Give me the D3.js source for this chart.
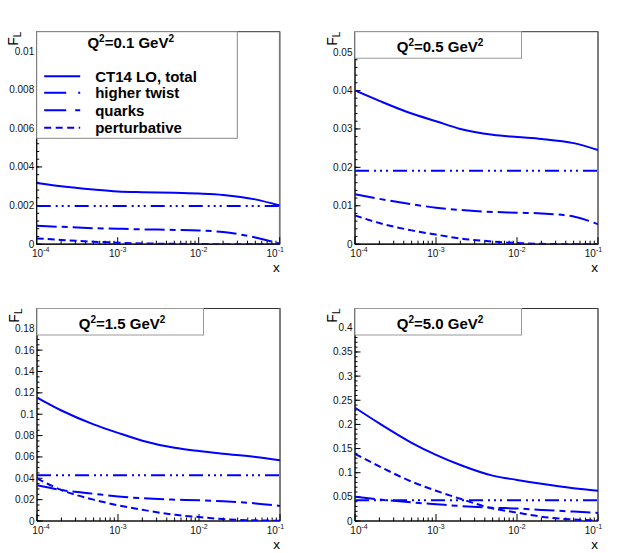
<!DOCTYPE html>
<html>
<head>
<meta charset="utf-8">
<script src="https://cdn.jsdelivr.net/npm/d3@7"></script>
<style>
  body { margin: 0; background: #fff; }
  text { font-family: "Liberation Sans", Arial, Helvetica, sans-serif; }
</style>
</head>
<body>
<svg id="chart" width="634" height="553"></svg>
<script>
// x grid shared by all curves
const xGrid = [1e-4, 2e-4, 5e-4, 1e-3, 2e-3, 5e-3, 1e-2, 2e-2, 5e-2, 1e-1];
const xTicks = [1e-4, 1e-3, 1e-2, 1e-1];
const q2Labels = ["0.1", "0.5", "1.5", "5.0"];
const seriesNames = ["CT14 LO, total", "higher twist", "quarks", "perturbative"];

// Q2 = 0.1 GeV2
const total01  = [0.00317, 0.00300, 0.00283, 0.00273, 0.00269, 0.00266, 0.00262, 0.00255, 0.00232, 0.00200];
const twist01  = [0.00198, 0.00198, 0.00198, 0.00198, 0.00198, 0.00198, 0.00198, 0.00198, 0.00198, 0.00198];
const quarks01 = [0.00095, 0.00090, 0.00083, 0.00080, 0.00077, 0.00074, 0.00071, 0.00063, 0.00035, 0.00003];
const pert01   = [0.00030, 0.00022, 0.00013, 0.00008, 0.00004, 0.00002, 0.00001, 0.00000, 0.00000, 0.00000];

// Q2 = 0.5 GeV2
const total05  = [0.0400, 0.0373, 0.0340, 0.0320, 0.0300, 0.0285, 0.0279, 0.0274, 0.0263, 0.0245];
const twist05  = [0.0191, 0.0191, 0.0191, 0.0191, 0.0191, 0.0191, 0.0191, 0.0191, 0.0191, 0.0191];
const quarks05 = [0.0130, 0.0118, 0.0104, 0.0095, 0.0089, 0.0084, 0.0082, 0.0080, 0.0072, 0.0052];
const pert05   = [0.0075, 0.0055, 0.0036, 0.0025, 0.0015, 0.0007, 0.0003, 0.0001, 0.0000, 0.0000];

// Q2 = 1.5 GeV2
const total15  = [0.1156, 0.1035, 0.0905, 0.0825, 0.0752, 0.0685, 0.0655, 0.0630, 0.0600, 0.0569];
const twist15  = [0.0428, 0.0428, 0.0428, 0.0428, 0.0428, 0.0428, 0.0428, 0.0428, 0.0428, 0.0428];
const quarks15 = [0.0334, 0.0290, 0.0255, 0.0230, 0.0213, 0.0200, 0.0194, 0.0185, 0.0165, 0.0141];
const pert15   = [0.0400, 0.0290, 0.0200, 0.0147, 0.0105, 0.0058, 0.0037, 0.0018, 0.0006, 0.0003];

// Q2 = 5.0 GeV2
const total50  = [0.2347, 0.2020, 0.1620, 0.1370, 0.1160, 0.0940, 0.0850, 0.0770, 0.0680, 0.0627];
const twist50  = [0.0432, 0.0432, 0.0432, 0.0432, 0.0432, 0.0432, 0.0432, 0.0432, 0.0432, 0.0432];
const quarks50 = [0.0501, 0.0445, 0.0385, 0.0348, 0.0310, 0.0275, 0.0258, 0.0230, 0.0195, 0.0167];
const pert50   = [0.1390, 0.1130, 0.0815, 0.0627, 0.0460, 0.0260, 0.0174, 0.0090, 0.0030, 0.0014];

// y axis ranges / ticks per panel
const yMax   = [0.011, 0.0553, 0.199, 0.44];
const yMajor = [0.002, 0.01, 0.02, 0.05];
const yMinor = [0.0004, 0.002, 0.005, 0.01];

const panelSeries = [
  [total01, twist01, quarks01, pert01],
  [total05, twist05, quarks05, pert05],
  [total15, twist15, quarks15, pert15],
  [total50, twist50, quarks50, pert50]
];

// layout
const origins = [[36.7, 31.7], [355, 31.7], [37, 308.5], [355, 308.5]];
const w = 243, h = 212.5;
const blue = "#0000ff";
const dashes = [null, "14,5,2,4,2,4,2,5", "20,5,6,5", "7,4"];
const legendDashes = [null, "22,12,2,12", "22,9,8,9", "7,4.5"];

const svg = d3.select("#chart");

function fmt(v) { return String(+v.toFixed(6)); }

panelSeries.forEach((series, p) => {
  const [ox, oy] = origins[p];
  const g = svg.append("g").attr("transform", `translate(${ox},${oy})`);

  const x = d3.scaleLog().domain([1e-4, 1e-1]).range([0, w]);
  const y = d3.scaleLinear().domain([0, yMax[p]]).range([h, 0]);

  g.append("clipPath").attr("id", "clip" + p)
    .append("rect").attr("width", w).attr("height", h);

  // frame
  g.append("rect").attr("width", w).attr("height", h)
    .attr("fill", "#fff").attr("stroke", "#333").attr("stroke-width", 1);
  g.append("line").attr("x1", w).attr("x2", w).attr("y1", 0).attr("y2", h)
    .attr("stroke", "#777").attr("stroke-width", 1.6);

  // y ticks
  const nMaj = Math.floor(yMax[p] / yMajor[p] + 1e-6);
  const majors = d3.range(nMaj + 1).map(i => i * yMajor[p]);
  const nMin = Math.floor(yMax[p] / yMinor[p] + 1e-6);
  const minors = d3.range(nMin + 1).map(i => i * yMinor[p]);
  g.selectAll(".ymin").data(minors).enter().append("line")
    .attr("x1", 0).attr("x2", 2.5)
    .attr("y1", d => y(d)).attr("y2", d => y(d))
    .attr("stroke", "#000").attr("stroke-width", 1);
  g.selectAll(".ymaj").data(majors).enter().append("line")
    .attr("x1", 0).attr("x2", 5.5)
    .attr("y1", d => y(d)).attr("y2", d => y(d))
    .attr("stroke", "#000").attr("stroke-width", 1);
  g.selectAll(".ylab").data(majors).enter().append("text")
    .attr("x", -2.5).attr("y", d => y(d) + 3.5)
    .attr("text-anchor", "end").attr("font-size", 10).attr("fill", "#111")
    .text(d => fmt(d));

  // x ticks (log)
  const xMinor = [];
  [1e-4, 1e-3, 1e-2].forEach(dec => { for (let k = 2; k <= 9; k++) xMinor.push(dec * k); });
  g.selectAll(".xmin").data(xMinor).enter().append("line")
    .attr("x1", d => x(d)).attr("x2", d => x(d))
    .attr("y1", h).attr("y2", h - 3.5)
    .attr("stroke", "#000").attr("stroke-width", 1);
  g.selectAll(".xmaj").data(xTicks).enter().append("line")
    .attr("x1", d => x(d)).attr("x2", d => x(d))
    .attr("y1", h).attr("y2", h - 7)
    .attr("stroke", "#000").attr("stroke-width", 1);
  const xl = g.selectAll(".xlab").data(xTicks).enter().append("text")
    .attr("x", (d, i) => x(d) + (i === 0 ? 4 : i === xTicks.length - 1 ? -4.5 : 0))
    .attr("y", h + 12.5).attr("text-anchor", "middle")
    .attr("font-size", 10).attr("fill", "#111");
  xl.append("tspan").text("10");
  xl.append("tspan").attr("dy", -5).attr("font-size", 7).text(d => String(Math.round(Math.log10(d))));

  // axes lines on top
  g.append("line").attr("x1", 0).attr("x2", w).attr("y1", h).attr("y2", h)
    .attr("stroke", "#000").attr("stroke-width", 1.2);
  g.append("line").attr("x1", 0).attr("x2", 0).attr("y1", 0).attr("y2", h)
    .attr("stroke", "#000").attr("stroke-width", 1);

  // axis titles
  g.append("text").attr("x", w).attr("y", h + 27.5).attr("text-anchor", "end")
    .attr("font-size", 13.5).text("x");
  const yt = g.append("text")
    .attr("transform", `translate(${-18.5},${0}) rotate(-90)`)
    .attr("text-anchor", "end").attr("font-size", 14);
  yt.append("tspan").text("F");
  yt.append("tspan").attr("dy", 3).attr("font-size", 10).text("L");

  // curves
  const line = d3.line()
    .x((d, i) => x(xGrid[i]))
    .y(d => y(d))
    .curve(d3.curveMonotoneX);
  const curves = g.append("g").attr("clip-path", `url(#clip${p})`);
  series.forEach((vals, s) => {
    curves.append("path").datum(vals)
      .attr("d", line)
      .attr("fill", "none").attr("stroke", blue).attr("stroke-width", 2)
      .attr("stroke-dasharray", dashes[s]);
  });

  // title / legend box
  if (p === 0) {
    g.append("rect").attr("x", 0).attr("y", 0).attr("width", 200.6).attr("height", 106.6)
      .attr("fill", "#fff").attr("stroke", "#888").attr("stroke-width", 1);
    const t = g.append("text").attr("x", 94).attr("y", 16.8)
      .attr("text-anchor", "middle").attr("font-size", 15).attr("font-weight", "bold");
    t.append("tspan").text("Q");
    t.append("tspan").attr("dy", -6).attr("font-size", 10).text("2");
    t.append("tspan").attr("dy", 6).text("=" + q2Labels[p] + " GeV");
    t.append("tspan").attr("dy", -6).attr("font-size", 10).text("2");
    const rows = [44.5, 61, 78.5, 96];
    seriesNames.forEach((name, s) => {
      g.append("line").attr("x1", 7.5).attr("x2", 43.5)
        .attr("y1", rows[s]).attr("y2", rows[s])
        .attr("stroke", blue).attr("stroke-width", 2)
        .attr("stroke-dasharray", legendDashes[s]);
      g.append("text").attr("x", 58.5).attr("y", rows[s] + 5.5)
        .attr("font-size", 15).attr("font-weight", "bold").text(name);
    });
  } else {
    g.append("rect").attr("x", 0).attr("y", 0).attr("width", 166.5).attr("height", 26.5)
      .attr("fill", "#fff").attr("stroke", "#999").attr("stroke-width", 1);
    const t = g.append("text").attr("x", 85).attr("y", 20.5)
      .attr("text-anchor", "middle").attr("font-size", 15).attr("font-weight", "bold");
    t.append("tspan").text("Q");
    t.append("tspan").attr("dy", -6).attr("font-size", 10).text("2");
    t.append("tspan").attr("dy", 6).text("=" + q2Labels[p] + " GeV");
    t.append("tspan").attr("dy", -6).attr("font-size", 10).text("2");
  }
});
</script>
</body>
</html>
